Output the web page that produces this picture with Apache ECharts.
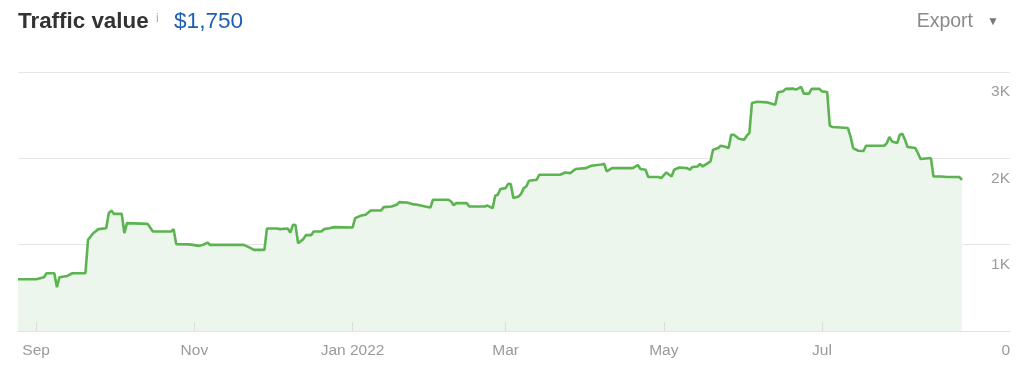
<!DOCTYPE html>
<html>
<head>
<meta charset="utf-8">
<script src="https://cdn.jsdelivr.net/npm/echarts@6/dist/echarts.min.js"></script>
<style>
html,body{margin:0;padding:0;background:#fff;}
#chart{width:1024px;height:381px;}
</style>
</head>
<body>
<div id="chart"></div>
<script>
var dates = ['2021-08-25','2021-09-01','2021-09-04','2021-09-05','2021-09-08','2021-09-09','2021-09-10','2021-09-13','2021-09-15','2021-09-20',
'2021-09-21','2021-09-22','2021-09-23','2021-09-25','2021-09-28','2021-09-29','2021-09-30','2021-10-01','2021-10-04','2021-10-05',
'2021-10-06','2021-10-14','2021-10-16','2021-10-23','2021-10-24','2021-10-25','2021-10-30','2021-11-03','2021-11-05','2021-11-06',
'2021-11-07','2021-11-20','2021-11-22','2021-11-24','2021-11-28','2021-11-29','2021-12-03','2021-12-04','2021-12-07','2021-12-08',
'2021-12-09','2021-12-10','2021-12-11','2021-12-13','2021-12-14','2021-12-16','2021-12-17','2021-12-20','2021-12-21','2021-12-23',
'2021-12-25','2022-01-01','2022-01-02','2022-01-04','2022-01-06','2022-01-08','2022-01-12','2022-01-13','2022-01-16','2022-01-18',
'2022-01-19','2022-01-22','2022-01-24','2022-01-26','2022-01-29','2022-01-31','2022-02-01','2022-02-07','2022-02-08','2022-02-09',
'2022-02-10','2022-02-14','2022-02-15','2022-02-21','2022-02-22','2022-02-24','2022-02-25','2022-02-26','2022-02-27','2022-03-01',
'2022-03-02','2022-03-03','2022-03-04','2022-03-06','2022-03-07','2022-03-08','2022-03-09','2022-03-10','2022-03-13','2022-03-14',
'2022-03-22','2022-03-24','2022-03-26','2022-03-28','2022-04-01','2022-04-03','2022-04-07','2022-04-08','2022-04-09','2022-04-11',
'2022-04-19','2022-04-21','2022-04-22','2022-04-24','2022-04-25','2022-04-29','2022-04-30','2022-05-02','2022-05-04','2022-05-05',
'2022-05-07','2022-05-10','2022-05-11','2022-05-12','2022-05-14','2022-05-15','2022-05-16','2022-05-18','2022-05-19','2022-05-20',
'2022-05-22','2022-05-23','2022-05-25','2022-05-26','2022-05-27','2022-05-28','2022-05-30','2022-06-01','2022-06-02','2022-06-03',
'2022-06-04','2022-06-06','2022-06-10','2022-06-12','2022-06-13','2022-06-14','2022-06-16','2022-06-17','2022-06-20','2022-06-21',
'2022-06-23','2022-06-24','2022-06-26','2022-06-27','2022-06-30','2022-07-01','2022-07-03','2022-07-04','2022-07-05','2022-07-11',
'2022-07-12','2022-07-13','2022-07-15','2022-07-17','2022-07-18','2022-07-25','2022-07-26','2022-07-27','2022-07-28','2022-07-30',
'2022-07-31','2022-08-01','2022-08-02','2022-08-03','2022-08-06','2022-08-07','2022-08-08','2022-08-12','2022-08-13','2022-08-16',
'2022-08-18','2022-08-23','2022-08-24'];
var values = [600,600,623,669,669,507,623,638,669,669,
1056,1094,1133,1180,1191,1365,1395,1357,1357,1133,
1249,1241,1152,1152,1180,1006,1003,986,1006,1024,
998,998,971,940,940,1187,1187,1180,1187,1140,
1230,1226,1017,1064,1110,1110,1152,1152,1180,1191,
1203,1198,1307,1334,1346,1395,1395,1435,1442,1462,
1493,1488,1470,1462,1442,1430,1520,1520,1500,1458,
1481,1481,1442,1442,1453,1423,1566,1578,1644,1655,
1705,1702,1539,1558,1589,1655,1674,1740,1752,1810,
1810,1836,1829,1876,1887,1914,1929,1937,1848,1887,
1887,1922,1876,1868,1783,1783,1771,1836,1790,1868,
1894,1887,1868,1899,1906,1934,1906,1945,1964,2100,
2119,2146,2131,2119,2274,2274,2227,2216,2262,2293,
2641,2656,2648,2630,2622,2764,2776,2804,2807,2796,
2827,2749,2749,2804,2804,2776,2769,2378,2363,2351,
2254,2119,2088,2085,2146,2146,2177,2247,2196,2177,
2274,2285,2216,2131,2119,2061,1992,2003,1790,1790,
1783,1783,1750];
var tickDates = ['2021-09-01','2021-11-01','2022-01-01','2022-03-01','2022-05-01','2022-07-01'];
var tickLabels = ['Sep','Nov','Jan 2022','Mar','May','Jul'];
var yTicks = [0,1000,2000,3000];
var yTickLabels = ['0','1K','2K','3K'];
var titleText = 'Traffic value';
var headlineValue = '$1,750';
var axisStart = '2021-08-25';
var axisEnd = '2022-09-11T12:00:00';

var parse = echarts.number.parseDate;
var tickTs = tickDates.map(function(d){return +parse(d);});
var seriesData = dates.map(function(d,i){return [+parse(d), values[i]];});
var FONT = '"Liberation Sans", Arial, sans-serif';

var chart = echarts.init(document.getElementById('chart'), null, {renderer:'canvas'});
chart.setOption({
  animation:false,
  backgroundColor:'#fff',
  grid:{left:18,right:14,top:72,bottom:50,containLabel:false,outerBoundsMode:'none'},
  xAxis:{
    type:'value',
    z:5,
    min:+parse(axisStart),
    max:+parse(axisEnd),
    axisLine:{show:true,lineStyle:{color:'#e2e2e2',width:1}},
    axisTick:{show:true,inside:true,length:9,customValues:tickTs,lineStyle:{color:'#dcdcdc'}},
    splitLine:{show:false},
    axisLabel:{
      customValues:tickTs,
      color:'#9a9a9a',fontFamily:FONT,fontSize:15.5,margin:12,
      formatter:function(v){var i=tickTs.indexOf(+v);return i>=0?tickLabels[i]:'';}
    }
  },
  yAxis:{
    type:'value',position:'right',min:0,max:3000,interval:1000,
    axisLine:{show:false},axisTick:{show:false},
    splitLine:{show:true,lineStyle:{color:'#e6e6e6',width:1}},
    axisLabel:{
      color:'#9a9a9a',fontFamily:FONT,fontSize:15.5,align:'right',margin:0,
      verticalAlign:'top',padding:[12,0,0,0],
      formatter:function(v){var i=yTicks.indexOf(v);return i>=0?yTickLabels[i]:'';}
    }
  },
  series:[{
    type:'line',
    data:seriesData,
    symbol:'none',
    lineStyle:{color:'#5bb450',width:2.6},
    areaStyle:{color:'#edf6ec',opacity:1},
    z:3
  }],
  graphic:[
    {type:'text',x:18,y:22,style:{text:titleText,font:'bold 22.4px '+FONT,fill:'#333333',verticalAlign:'middle',align:'left'}},
    {type:'text',x:156,y:19,style:{text:'i',font:'12px '+FONT,fill:'#aaaaaa',verticalAlign:'middle',align:'left'}},
    {type:'text',x:174,y:22,style:{text:headlineValue,font:'22.6px '+FONT,fill:'#1f5fb5',verticalAlign:'middle',align:'left'}},
    {type:'text',x:973,y:22,style:{text:'Export',font:'19.5px '+FONT,fill:'#8a8a8a',verticalAlign:'middle',align:'right'}},
    {type:'text',x:993,y:22,style:{text:'▼',font:'12px '+FONT,fill:'#777777',verticalAlign:'middle',align:'center'}}
  ]
});
</script>
</body>
</html>
